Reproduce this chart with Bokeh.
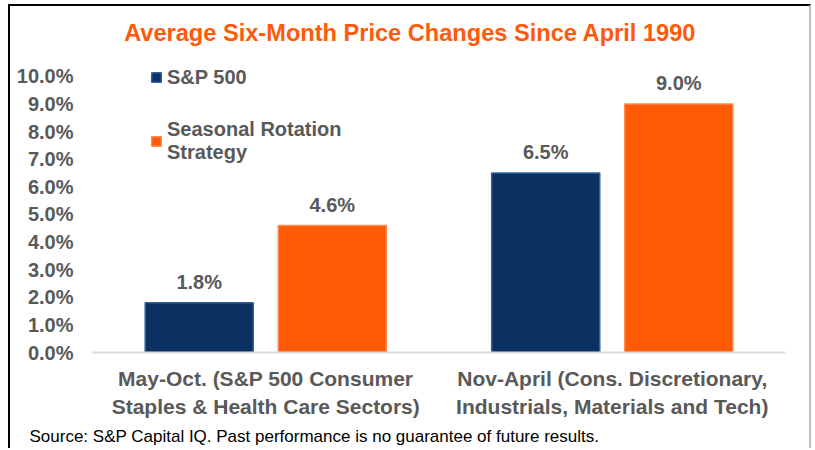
from bokeh.plotting import figure
from bokeh.models import (ColumnDataSource, FactorRange, Range1d, FixedTicker,
                          PrintfTickFormatter, LabelSet, Label, Legend, LegendItem, Title)
from bokeh.core.properties import value
from bokeh.transform import dodge
from bokeh.embed import file_html
from bokeh.resources import INLINE

# ---- data ----
categories = ["May-Oct. (S&P 500 Consumer\nStaples & Health Care Sectors)",
              "Nov-April (Cons. Discretionary,\nIndustrials, Materials and Tech)"]
sp500 = [1.8, 6.5]
rotation = [4.6, 9.0]
series_names = ["S&P 500", "Seasonal Rotation\nStrategy"]
y_ticks = [0, 1, 2, 3, 4, 5, 6, 7, 8, 9, 10]
title_text = "Average Six-Month Price Changes Since April  1990"
source_text = "Source: S&P Capital IQ. Past performance is no guarantee of future results."

NAVY = "#0b3062"
NAVY_EDGE = "#35619a"
ORANGE = "#ff5a05"
ORANGE_EDGE = "#ff8a4c"
GREY = "#595959"
FONT = "Liberation Sans"

src = ColumnDataSource(dict(
    cat=categories,
    sp=sp500,
    rot=rotation,
    sp_lbl=[f"{v:.1f}%" for v in sp500],
    rot_lbl=[f"{v:.1f}%" for v in rotation],
))

# frame extends upward beyond 10% so the title and legend sit inside it
p = figure(width=803, height=444, x_range=FactorRange(*categories, range_padding=0),
           y_range=Range1d(0, 12.39), output_backend="svg", toolbar_location=None,
           min_border_left=82, min_border_right=28, min_border_top=4, min_border_bottom=98)
p.styles = {"margin-left": "8px", "margin-top": "4px",
            "border-top": "2px solid #000000", "border-left": "2px solid #000000",
            "border-right": "2px solid #bfbfbf"}
p.outline_line_color = None
p.xgrid.grid_line_color = None
p.ygrid.grid_line_color = None
p.background_fill_color = "white"
p.border_fill_color = "white"

OFF = 0.192
W = 0.312
r_sp = p.vbar(x=dodge("cat", -OFF, range=p.x_range), top="sp", width=W, source=src,
              fill_color=NAVY, line_color=NAVY_EDGE, line_width=1.5)
r_rot = p.vbar(x=dodge("cat", OFF, range=p.x_range), top="rot", width=W, source=src,
               fill_color=ORANGE, line_color=ORANGE_EDGE, line_width=1.5)

for field, lbl, off in (("sp", "sp_lbl", -OFF), ("rot", "rot_lbl", OFF)):
    p.add_layout(LabelSet(x=dodge("cat", off, range=p.x_range), y=field, text=lbl, source=src,
                          text_align="center", text_baseline="alphabetic", y_offset=14,
                          text_font=value(FONT), text_font_style="bold",
                          text_font_size="20px", text_color=GREY))

# axes
p.yaxis.ticker = FixedTicker(ticks=y_ticks)
p.yaxis.formatter = PrintfTickFormatter(format="%.1f%%")
p.yaxis.axis_line_color = None
p.yaxis.major_tick_line_color = None
p.yaxis.minor_tick_line_color = None
p.yaxis.major_tick_out = 0
p.yaxis.major_label_standoff = 19
p.yaxis.major_label_text_font = FONT
p.yaxis.major_label_text_font_style = "bold"
p.yaxis.major_label_text_font_size = "20px"
p.yaxis.major_label_text_color = GREY

p.xaxis.axis_line_color = "#d9d9d9"
p.xaxis.axis_line_width = 2
p.xaxis.major_tick_line_color = None
p.xaxis.minor_tick_line_color = None
p.xaxis.major_tick_out = 0
p.xaxis.major_label_standoff = 14
p.xaxis.major_label_text_font = FONT
p.xaxis.major_label_text_font_style = "bold"
p.xaxis.major_label_text_font_size = "21px"
p.xaxis.major_label_text_color = GREY
p.xaxis.major_label_text_line_height = 1.25

# legend
legend = Legend(items=[LegendItem(label=series_names[0], renderers=[r_sp]),
                       LegendItem(label=series_names[1], renderers=[r_rot])],
                location=(58, 188), orientation="vertical",
                glyph_width=12, glyph_height=12, label_height=24, spacing=29,
                padding=0, margin=0, label_standoff=5,
                label_text_font=FONT, label_text_font_style="bold",
                label_text_font_size="20px", label_text_color=GREY,
                border_line_color=None, background_fill_alpha=0)
p.add_layout(legend, "center")

# title inside the extended frame
p.add_layout(Label(x=0.9264, y=11.56, text=title_text, text_align="center",
                   text_baseline="middle", text_font=FONT, text_font_style="bold",
                   text_font_size="23.6px", text_color="#ff5a0a"))

# source note below the axis
p.add_layout(Title(text=source_text, align="left", offset=-63, standoff=6,
                   text_font=FONT, text_font_style="normal", text_font_size="17px",
                   text_color="#000000"), "below")

open("out.html", "w").write(file_html(p, INLINE))
